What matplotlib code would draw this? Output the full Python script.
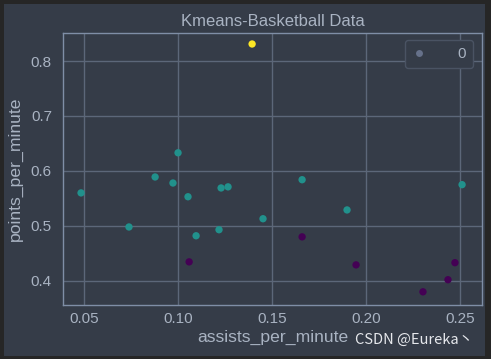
import matplotlib
matplotlib.use("Agg")
import matplotlib.pyplot as plt
from matplotlib.patches import Rectangle
from matplotlib.lines import Line2D

assists = [0.1394, 0.0484, 0.0739, 0.0878, 0.0973, 0.100, 0.1053, 0.1096, 0.1218,
           0.1229, 0.1266, 0.1452, 0.166, 0.1899, 0.2511,
           0.1059, 0.166, 0.1947, 0.2303, 0.2436, 0.2473]
points = [0.831, 0.560, 0.498, 0.589, 0.578, 0.633, 0.553, 0.482, 0.493,
          0.569, 0.571, 0.513, 0.584, 0.529, 0.575,
          0.4345, 0.480, 0.429, 0.380, 0.402, 0.433]
labels = [2, 1, 1, 1, 1, 1, 1, 1, 1, 1, 1, 1, 1, 1, 1, 0, 0, 0, 0, 0, 0]
xticks = [0.05, 0.10, 0.15, 0.20, 0.25]
yticks = [0.4, 0.5, 0.6, 0.7, 0.8]

bg = "#353c48"
txt = "#a9b3c2"
grid = "#5c6779"
spine = "#7f8ea6"

plt.rcParams['font.family'] = ['Liberation Sans', 'DejaVu Sans']

fig = plt.figure(figsize=(4.91, 3.59), dpi=100, facecolor=bg)
ax = fig.add_axes([63/491, 1-305/359, (482-63)/491, (305-33)/359])
ax.set_facecolor(bg)

ax.scatter(assists, points, c=labels, cmap='viridis', s=28, zorder=3, linewidths=0)

ax.set_xlim(0.0388, 0.2617)
ax.set_ylim(0.356, 0.851)
ax.set_xticks(xticks)
ax.set_xticklabels([f"{v:.2f}" for v in xticks])
ax.set_yticks(yticks)
ax.set_yticklabels([f"{v:.1f}" for v in yticks])
ax.grid(True, color=grid, linewidth=1.0, zorder=0)
ax.set_axisbelow(True)
for s in ax.spines.values():
    s.set_color(spine)
    s.set_linewidth(1.0)
ax.tick_params(colors=txt, labelsize=11, length=0)
ax.tick_params(axis='x', pad=5)
ax.tick_params(axis='y', pad=8)
ax.set_title("Kmeans-Basketball Data", color=txt, fontsize=12, pad=5)
ax.set_xlabel("assists_per_minute", color=txt, fontsize=12.6, labelpad=3)
ax.set_ylabel("points_per_minute", color=txt, fontsize=12.6, labelpad=6)

h = Line2D([], [], marker='o', linestyle='None', markersize=5, color='#66718a', markeredgewidth=0)
leg = ax.legend([h], ['0'], loc='upper right', fontsize=11, labelcolor=txt,
                facecolor=bg, edgecolor='#4a5363', framealpha=1.0,
                borderpad=0.45, handlelength=1.0, handletextpad=2.0, borderaxespad=0,
                bbox_to_anchor=(1 - 9/419, 1 - 7/272))
leg.get_frame().set_linewidth(1.0)

fig.text(473/491, 0.035, "CSDN @Eureka丶", color="#e6e8ec", fontsize=10.5,
         ha='right', va='bottom', family=['Noto Sans CJK SC', 'DejaVu Sans'])

# screenshot border
b = "#262626"
fig.patches.append(Rectangle((0, 0), 1, 1, transform=fig.transFigure, fill=False,
                             edgecolor=b, linewidth=5, zorder=10))
fig.patches.append(Rectangle((485/491, 0), 6/491, 1, transform=fig.transFigure,
                             facecolor=b, edgecolor='none', zorder=10))

fig.savefig("out.png", dpi=100, facecolor=bg)
